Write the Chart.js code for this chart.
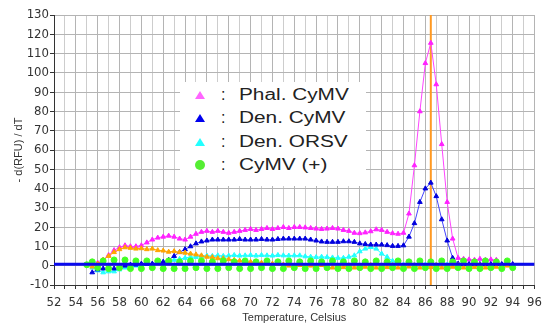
<!DOCTYPE html>
<html>
<head>
<meta charset="utf-8">
<script src="https://cdn.jsdelivr.net/npm/chart.js@4.4.0/dist/chart.umd.min.js"></script>
<style>
  body { margin: 0; background: #fff; }
  #wrap { position: relative; width: 548px; height: 335px; }
  #legend {
    position: absolute; left: 180px; top: 82px; width: 186px; height: 104px;
    background: #fff; font-family: "Liberation Sans", Arial, sans-serif; color: #222;
  }
  .row { position: absolute; left: 0; height: 20px; width: 186px; }
  .mk { position: absolute; left: 15px; top: 6px; }
  .tri { width: 0; height: 0; border-left: 5px solid transparent; border-right: 5px solid transparent; border-bottom: 8px solid; }
  .dot { width: 10px; height: 10px; border-radius: 50%; left: 15px; top: 5px; }
  .colon { position: absolute; left: 41px; top: 0; font-size: 16px; line-height: 20px; }
  .txt { position: absolute; left: 59px; top: 0; font-size: 16px; line-height: 20px; transform: scaleX(1.3); transform-origin: left center; white-space: nowrap; }
</style>
</head>
<body>
<div id="wrap">
  <canvas id="chart" width="548" height="335"></canvas>
  <div id="legend">
    <div class="row" style="top:3px"><div class="mk tri" style="border-bottom-color:#ff66ff"></div><span class="colon">:</span><span class="txt">Phal. CyMV</span></div>
    <div class="row" style="top:26px"><div class="mk tri" style="border-bottom-color:#0000ee"></div><span class="colon">:</span><span class="txt">Den. CyMV</span></div>
    <div class="row" style="top:50px"><div class="mk tri" style="border-bottom-color:#22ffff"></div><span class="colon">:</span><span class="txt">Den. ORSV</span></div>
    <div class="row" style="top:73px"><div class="mk dot" style="background:#55ee33"></div><span class="colon">:</span><span class="txt">CyMV (+)</span></div>
  </div>
</div>
<script>
// melt curve readings, one every 0.5 C
const temps = [55, 55.5, 56, 56.5, 57, 57.5, 58, 58.5, 59, 59.5, 60, 60.5, 61, 61.5, 62, 62.5, 63, 63.5, 64, 64.5,
  65, 65.5, 66, 66.5, 67, 67.5, 68, 68.5, 69, 69.5, 70, 70.5, 71, 71.5, 72, 72.5, 73, 73.5, 74, 74.5,
  75, 75.5, 76, 76.5, 77, 77.5, 78, 78.5, 79, 79.5, 80, 80.5, 81, 81.5, 82, 82.5, 83, 83.5, 84, 84.5,
  85, 85.5, 86, 86.5, 87, 87.5, 88, 88.5, 89, 89.5, 90, 90.5, 91, 91.5, 92, 92.5, 93, 93.5, 94]

const phalCymv = [null, 0.5, 1.5, 3, 5.5, 8, 9.5, 10.5, 10, 10, 10.5, 12, 13.5, 14.5, 15, 15.5, 15, 14, 13.5, 15,
  16.5, 17.5, 18, 17.5, 18, 17.5, 17, 17.5, 18, 18.5, 19, 18.5, 19, 19.5, 19, 19.5, 20, 19.5, 20, 20,
  19.8, 19.5, 19.2, 19, 19.2, 19.5, 19.2, 18.5, 18, 17, 16.8, 17.2, 17.8, 18.8, 18.5, 17.5, 16.8, 16.5, 17, 27,
  52, 80, 105, 115.5, 94, 63, 33, 14, 4, 3.5, 3.2, 3, 3.5, 3, 3.2, 3, null, null, null]

const denCymv = [null, -3.5, -2, -1.5, -1, -1.5, -1, 0, 0.5, 0.5, 1, 1, 1, 1.5, 2, 3, 5, 7, 8.5, 10,
  11.5, 12.5, 13, 13.5, 13.5, 13.5, 13.5, 13.5, 13.8, 13.5, 13.5, 13.5, 13.8, 13.5, 13.5, 13.8, 14, 14, 14, 14,
  14, 13.5, 13, 12.5, 12.3, 12.3, 12.3, 12.6, 12.6, 12.3, 11.5, 11.2, 10.9, 10.9, 10.9, 10.6, 10.2, 10.2, 10.5, 15,
  22, 33, 40, 43, 36, 24, 13, 4, 1, 0.8, 0.8, 0.8, 0.8, 0.8, 0.8, 0.8, 0.8, 0.8, 0.8]

const denOrsv = [null, -1, -2.5, -3.5, -3, -3, -2, -1, 0, 0, 0.5, 1, 1, 1.5, 2, 2.5, 3, 3.5, 4, 4.5,
  4.5, 5, 5.2, 5, 5.3, 5, 5.2, 5.5, 5.2, 5.3, 5.5, 5.2, 5.5, 5.3, 5.2, 5.5, 5.3, 5.2, 5.3, 5.3,
  4.8, 4.6, 4.4, 4.6, 4.4, 4.2, 4, 4, 4.6, 5.3, 7.4, 8.8, 9.6, 8.8, 6.2, 4.5, 2.5, 1, 0.5, 0.5,
  0.5, 0.5, 0.5, 0.5, 0.5, 0.5, 0.5, 0.5, 0.5, 0.5, 0.5, 0.5, 0.5, 0.5, 0.5, 0.5, 0.5, 0.5, null]

const unlabeled = [null, -0.5, 1, 3, 5, 7, 8.5, 9.5, 9.2, 8.8, 9, 8.5, 8.8, 8, 7.8, 7.2, 7.5, 7, 6.7, 6.2,
  5.8, 5.3, 4.6, 4.4, 3.8, 3.8, 3.3, 3, 2.6, 2.2, 2, 1.8, 1.5, 1.2, 1, 0.8, 0.5, 0, -0.8, 0.3,
  -1, 0, -0.8, 0.3, -0.5, -1, 0, -0.8, 0.2, -1, 0, -0.6, 0.3, -1, 0, -0.8, 0.2, -1, 0, -0.5,
  0.2, -1, 0, -0.8, 0.3, -1, 0, -0.6, 0.2, -1, 0, -0.8, 0.3, -1, 0, -0.6, -1, 0, -0.8]

const cymvPos = [0.5, 2, -1, 2.5, -1.5, 3, -1, 3, -1.5, 2.5, -1.5, 2.5, -1, 2.5, -1.5, 2.5, -1.5, 2, -1.5, 2.5,
  -1, 2.5, -1.5, 2, -1.5, 2.5, -1, 2, -1.5, 2.5, -1.5, 2, -1, 2.5, -1.5, 2, -1.5, 2.5, -1, 2,
  -1.5, 2.5, -1.5, 2, -1, 2.5, -1.5, 2, -1.5, 2.5, -1, 2, -1.5, 2.5, -1.5, 2, -1, 2.5, -1.5, 2,
  -1.5, 2.5, -1, 2, -1.5, 2.5, -1.5, 2, -1, 2.5, -1.5, 2, -1.5, 2.5, -1, 2, -1.5, 2.5, -1]

// threshold line and melt peak marker
const thresholdTemps = [52, 96]
const thresholdValue = [0.8, 0.8]
const meltPeakTemp = 86.5
const meltPeakRange = [-10, 130]

const xTicks = [52, 96]
const yTicks = [-10, 130]

const toPoints = (vals) => temps.map((t, i) => ({ x: t, y: vals[i] }))

const series = (data, color, lineColor, style, order) => ({
  data: toPoints(data),
  borderColor: lineColor,
  backgroundColor: color,
  pointBackgroundColor: color,
  pointBorderColor: color,
  pointStyle: style,
  pointRadius: style === "circle" ? 3 : 2.7,
  borderWidth: 1,
  pointBorderWidth: 1,
  spanGaps: false,
  order: order,
})

const ctx = document.getElementById("chart")
new Chart(ctx, {
  type: "line",
  data: {
    datasets: [
      {
        data: thresholdTemps.map((t, i) => ({ x: t, y: thresholdValue[i] })),
        borderColor: "#0a0aee",
        borderWidth: 3,
        pointRadius: 0,
        order: 0,
      },
      series(cymvPos, "#44ff22", "#44ff22", "circle", 1),
      series(unlabeled, "#ffa500", "#ffa500", "triangle", 2),
      series(denCymv, "#0000dd", "#4444ff", "triangle", 3),
      series(denOrsv, "#22ffff", "#22ffff", "triangle", 4),
      series(phalCymv, "#ff22ff", "#ff44ff", "triangle", 5),
      {
        data: meltPeakRange.map((v) => ({ x: meltPeakTemp, y: v })),
        borderColor: "#ff9922",
        borderWidth: 2,
        pointRadius: 0,
        order: 6,
      },
    ],
  },
  options: {
    responsive: false,
    animation: false,
    layout: { padding: { top: 15, right: 10, left: 0, bottom: 0 } },
    plugins: { legend: { display: false }, tooltip: { enabled: false } },
    scales: {
      x: {
        type: "linear",
        min: xTicks[0],
        max: xTicks[1],
        afterFit: (scale) => { scale.height = 50 },
        grid: {
          color: (c) => (c.tick && c.tick.value % 2 === 0 ? "#b4b4b4" : "#cdcdcd"),
          tickColor: "#333",
          tickLength: 4,
        },
        border: { color: "#333", width: 1 },
        ticks: {
          stepSize: 1,
          autoSkip: false,
          maxRotation: 0,
          padding: 6,
          color: "#333",
          font: { family: "'Liberation Sans Narrow', 'DejaVu Sans Condensed', sans-serif", size: 13 },
          callback: (v) => (v % 2 === 0 ? v : ""),
        },
        title: {
          display: true,
          text: "Temperature, Celsius",
          color: "#333",
          font: { family: "'Liberation Sans', Arial, sans-serif", size: 11 },
          padding: { top: 0, bottom: 10 },
        },
      },
      y: {
        min: yTicks[0],
        max: yTicks[1],
        afterFit: (scale) => { scale.width = 54 },
        grid: { color: "#b4b4b4", tickColor: "#333", tickLength: 4 },
        border: { color: "#333", width: 1 },
        ticks: {
          stepSize: 10,
          padding: 1,
          color: "#333",
          font: { family: "'Liberation Sans Narrow', 'DejaVu Sans Condensed', sans-serif", size: 13 },
        },
        title: {
          display: true,
          text: "- d(RFU) / dT",
          color: "#333",
          font: { family: "'Liberation Sans', Arial, sans-serif", size: 11 },
          padding: { top: 12, bottom: 0 },
        },
      },
    },
  },
})
</script>
</body>
</html>
